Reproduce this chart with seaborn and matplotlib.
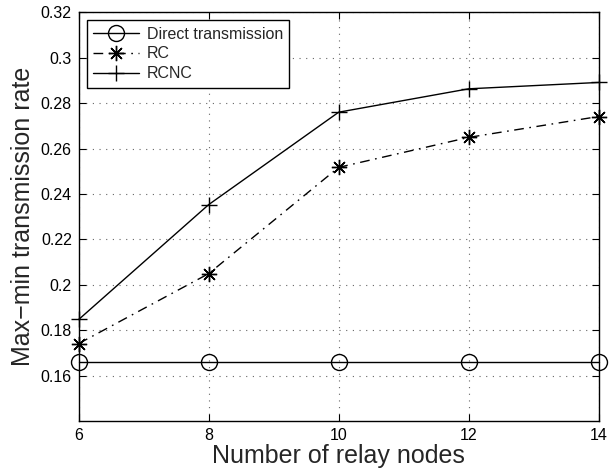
import matplotlib
matplotlib.use("Agg")
import matplotlib.pyplot as plt
import seaborn as sns
import pandas as pd

relay_nodes = [6, 8, 10, 12, 14]
direct = [0.1659, 0.1659, 0.1659, 0.1659, 0.1659]
rc = [0.1741, 0.2049, 0.2517, 0.2649, 0.2741]
rcnc = [0.1847, 0.2353, 0.2760, 0.2863, 0.2891]
series_names = ["Direct transmission", "RC", "RCNC"]
yticks = [0.16, 0.18, 0.2, 0.22, 0.24, 0.26, 0.28, 0.3, 0.32]
ytick_labels = ["0.16", "0.18", "0.2", "0.22", "0.24", "0.26", "0.28", "0.3", "0.32"]

sns.set_theme(style="ticks")
plt.rcParams['font.family'] = ['Liberation Sans', 'DejaVu Sans']

df = pd.DataFrame({
    "x": relay_nodes * 3,
    "y": direct + rc + rcnc,
    "series": [series_names[0]] * 5 + [series_names[1]] * 5 + [series_names[2]] * 5,
})

fig = plt.figure(figsize=(6.16, 4.73), dpi=100)
ax = fig.add_axes([0.1278, 0.110, 0.844, 0.864])

styles = {
    "Direct transmission": dict(ls="-", marker="o", ms=11.5, mfc="none"),
    "RC": dict(ls=(0, (7, 4, 1.2, 4)), marker=(8, 2, 0), ms=11, mfc="none"),
    "RCNC": dict(ls="-", marker="+", ms=12),
}
for name in series_names:
    sub = df[df["series"] == name]
    st = styles[name]
    sns.lineplot(data=sub, x="x", y="y", ax=ax, color="black", lw=1.0,
                 linestyle=st["ls"], marker=st["marker"], markersize=st["ms"],
                 markerfacecolor=st.get("mfc", "black"), markeredgecolor="black",
                 markeredgewidth=1.0, label=name, clip_on=False)

ax.set_xlim(6, 14)
ax.set_ylim(0.14, 0.32)
ax.set_xticks(relay_nodes)
ax.set_xticklabels([str(v) for v in relay_nodes], fontsize=11.5)
ax.set_yticks(yticks)
ax.set_yticklabels(ytick_labels, fontsize=11.5)
ax.grid(True, color="#666666", linestyle=(0, (1, 5)), linewidth=0.8)
ax.tick_params(direction="in", top=True, right=True, length=5, width=0.8,
               colors="black", pad=5)
for s in ax.spines.values():
    s.set_visible(True)
    s.set_color("black")
    s.set_linewidth(1.0)
ax.set_xlabel("Number of relay nodes", fontsize=18, labelpad=1)
ax.set_ylabel("Max\u2212min transmission rate", fontsize=18, labelpad=4)

leg = ax.legend(loc="upper left", fontsize=11.5, frameon=True, fancybox=False,
                edgecolor="black", framealpha=1, borderaxespad=0.5,
                handlelength=2.9, handletextpad=0.45, labelspacing=0.3,
                borderpad=0.4)
leg.get_frame().set_linewidth(1.0)

fig.savefig("out.png", dpi=100)
